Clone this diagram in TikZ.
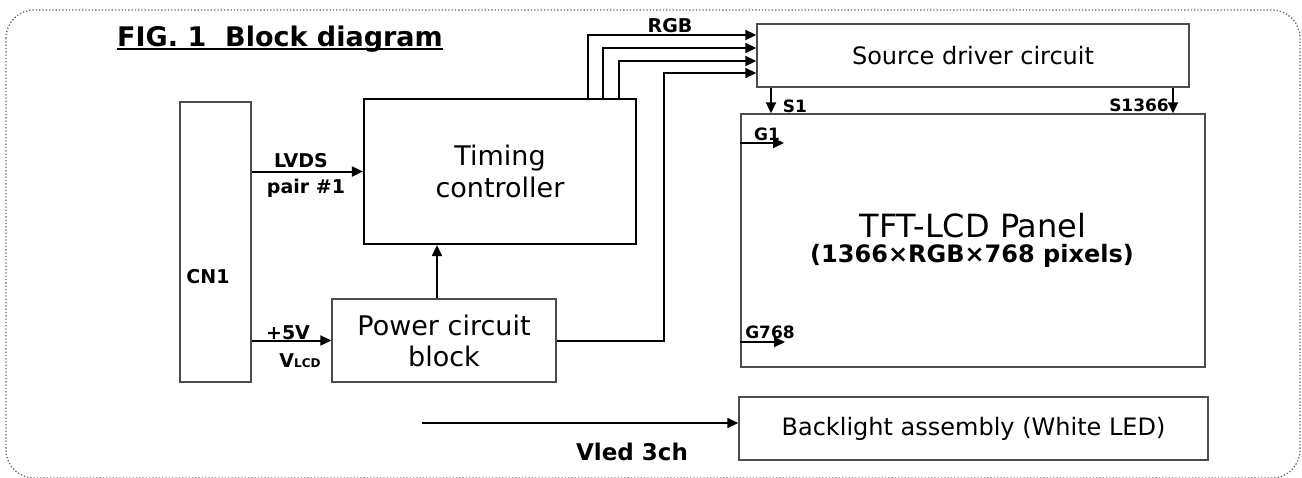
\documentclass[tikz,border=0pt]{standalone}
\usepackage{fontspec}
\setmainfont{DejaVu Sans}
\usetikzlibrary{arrows.meta}
\tikzset{
  blk/.style={draw=black!70, line width=1.4pt, inner sep=0pt},
  sig/.style={line width=2pt, -{Triangle[length=11pt,width=10pt]}},
  lbl/.style={inner sep=0pt, anchor=base, font=\bfseries\fontsize{19}{21}\selectfont},
  sglbl/.style={inner sep=0pt, anchor=base, font=\bfseries\fontsize{17}{19}\selectfont},
}

\begin{document}
\begin{tikzpicture}[x=1pt,y=-1pt]
        \useasboundingbox (0,0) rectangle (1302,477);
        % Dotted frame and title
        \draw[black!60, dotted, line width=1.3pt, rounded corners=28pt] (6,10) rectangle (1300,478);
        \node[anchor=base west, inner sep=0pt, font=\bfseries\fontsize{27}{30}\selectfont] (ttl) at (117,46) {FIG. 1\hspace{0.7em}Block diagram};
        \draw[line width=1.6pt] ([yshift=-3pt]ttl.base west) -- ([yshift=-3pt]ttl.base east);

        % Blocks
        \node[blk, minimum width=71pt, minimum height=280pt] (cn) at (215.5,242) {};
        \node[lbl] at (208,283) {CN1};
        \node[blk, draw=black, line width=2.2pt, minimum width=272pt, minimum height=145pt, align=center, font=\fontsize{27}{32}\selectfont] (tc) at (500,171.5) {Timing\\controller};
        \node[blk, minimum width=224pt, minimum height=83pt, align=center, font=\fontsize{27}{31}\selectfont] (pw) at (444,340.5) {Power circuit\\block};
        \node[blk, minimum width=432pt, minimum height=63pt, font=\fontsize{24}{26}\selectfont] (src) at (973,55.5) {Source driver circuit};
        \node[blk, minimum width=464pt, minimum height=253pt] (pnl) at (973,240.5) {};
        \node[inner sep=0pt, anchor=base, font=\fontsize{32}{34}\selectfont] at (973,237) {TFT-LCD Panel};
        \node[inner sep=0pt, anchor=base, font=\bfseries\fontsize{24}{26}\selectfont] at (972,262) {(1366×RGB×768 pixels)};
        \node[blk, minimum width=469pt, minimum height=63pt, font=\fontsize{24}{26}\selectfont] (bl) at (973.5,428.5) {Backlight assembly (White LED)};

        % CN1 to timing controller and power block
        \draw[sig] (cn.east |- tc.west) -- (tc.west);
        \node[lbl] at (301,167) {LVDS};
        \node[lbl] at (306,193) {pair \#1};
        \draw[sig] (cn.east |- pw.west) -- (pw.west);
        \node[lbl] at (288,339) {+5V};
        \node[lbl] at (300,367) {V{\fontsize{12}{14}\selectfont LCD}};
        \draw[sig] ([xshift=-7pt]pw.north) -- ([xshift=-7pt]pw.north |- tc.south);

        % RGB bus to source driver
        \foreach \dx/\dy in {88/20.5, 103/7.5, 119/-5.5}
            \draw[sig] ([xshift=\dx pt]tc.north) |- ([yshift=\dy pt]src.west);
        \draw[sig] (pw.east) -- ++(107,0) |- ([yshift=-17.5pt]src.west);
        \node[lbl] at (670,32) {RGB};

        % Source and gate lines
        \draw[sig] ([xshift=-202pt]src.south) -- ([xshift=-202pt]src.south |- pnl.north);
        \draw[sig] ([xshift=200pt]src.south) -- ([xshift=200pt]src.south |- pnl.north);
        \node[sglbl] at (795,112) {S1};
        \node[sglbl, anchor=base east] at (1169,111) {S1366};
        \coordinate (g1) at (784,143);
        \coordinate (g768) at (785,342);
        \draw[sig] (pnl.west |- g1) -- (g1);
        \draw[sig] (pnl.west |- g768) -- (g768);
        \node[sglbl] at (767,140) {G1};
        \node[sglbl] at (770,338) {G768};

        % Backlight supply
        \coordinate (vled) at (422,423);
        \draw[sig, line width=1.5pt] (vled) -- (bl.west |- vled);
        \node[lbl, font=\bfseries\fontsize{23}{25}\selectfont] at (632,460) {Vled 3ch};
\end{tikzpicture}
\end{document}
